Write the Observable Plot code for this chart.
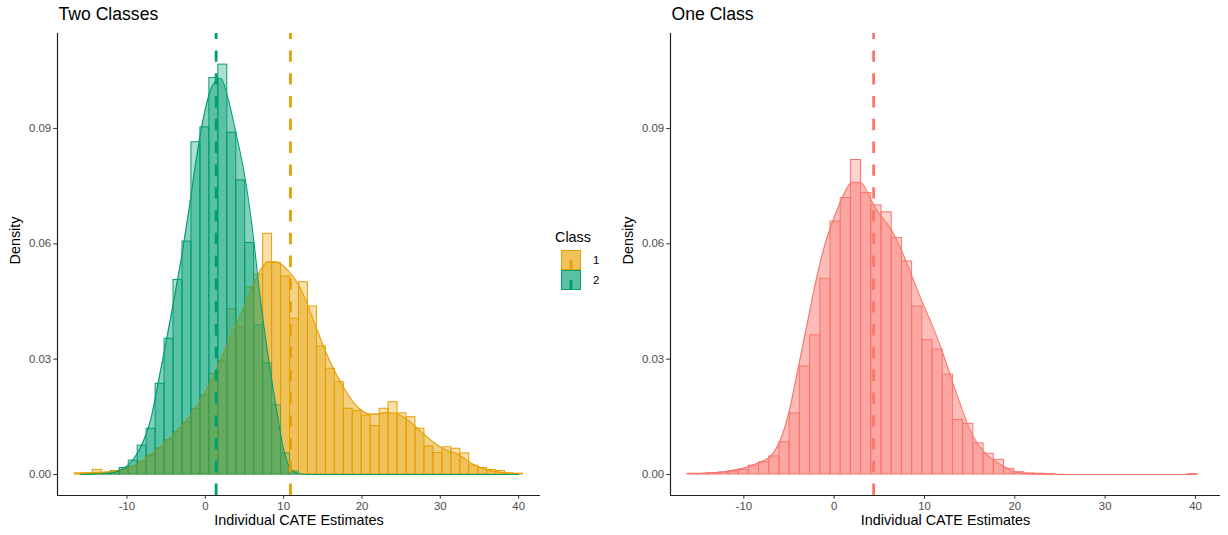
<!DOCTYPE html>
<html>
<head>
<meta charset="utf-8">
<script src="https://cdn.jsdelivr.net/npm/d3@7"></script>
<script src="https://cdn.jsdelivr.net/npm/@observablehq/plot@0.6"></script>
<style>
  html, body { margin: 0; padding: 0; background: #fff; }
  #chart { position: relative; width: 1228px; height: 535px; font-family: "Liberation Sans", Arial, sans-serif; }
  #chart > svg { position: absolute; top: 0; overflow: visible; }
</style>
</head>
<body>
<div id="chart"></div>
<script>
// ---- shared axis settings ----
const xTicks = [-10, 0, 10, 20, 30, 40];
const yTicks = [0, 0.03, 0.06, 0.09];
const yDomain = [-0.00546, 0.1147];

// ---- Two Classes panel ----
const classLabels = ["1", "2"];
const classColors = ["#E69F00", "#009E73"];
const classMeans = [10.87, 1.38];

// histogram grid (50 bins)
const twoBinStart = -16.642;
const twoBinWidth = 1.144;

const class1Hist = [
  0.0003, 0.0003, 0.0012, 0.0004, 0.0008, 0.0012, 0.0020, 0.0033, 0.0050, 0.0068,
  0.0090, 0.0110, 0.0135, 0.0170, 0.0205, 0.0262, 0.0295, 0.0430, 0.0383, 0.0487,
  0.0520, 0.0626, 0.0550, 0.0515, 0.0405, 0.0500, 0.0437, 0.0333, 0.0275, 0.0240,
  0.0171, 0.0165, 0.0153, 0.0126, 0.0171, 0.0188, 0.0159, 0.0149, 0.0119, 0.0073,
  0.0056, 0.0071, 0.0067, 0.0055, 0.0023, 0.0017, 0.0012, 0.0009, 0.0003, 0.0002
];
const class2Hist = [
  0, 0, 0, 0.0003, 0.0008, 0.0017, 0.0036, 0.0075, 0.0119, 0.0236,
  0.0353, 0.0506, 0.0606, 0.0864, 0.0903, 0.1031, 0.1066, 0.0889, 0.0765, 0.0602,
  0.0388, 0.0289, 0.0180, 0.0055, 0.0008, 0, 0, 0, 0, 0,
  0, 0, 0, 0, 0, 0, 0, 0, 0, 0,
  0, 0, 0, 0, 0, 0, 0, 0, 0, 0
];

// kernel density estimates
const twoCurveX = [
  -16, -14, -12, -11, -10, -9, -8, -7, -6, -5, -4, -3, -2, -1, 0, 1, 2, 3, 4, 5,
  6, 7, 8, 9, 10, 11, 12, 13, 14, 15, 16, 17, 18, 19, 20, 21, 22, 23, 24, 25,
  26, 27, 28, 29, 30, 31, 32, 33, 34, 35, 36, 37, 38, 39, 40
];
const class1Curve = [
  0.0003, 0.0005, 0.0008, 0.0011, 0.0015, 0.0024, 0.0035, 0.0050, 0.0067, 0.0086,
  0.0105, 0.0127, 0.0150, 0.0180, 0.0215, 0.0255, 0.0300, 0.0345, 0.0390, 0.0438,
  0.0485, 0.0530, 0.0553, 0.0553, 0.0542, 0.0520, 0.0490, 0.0445, 0.0390, 0.0338,
  0.0290, 0.0250, 0.0215, 0.0185, 0.0166, 0.0157, 0.0157, 0.0161, 0.0160, 0.0153,
  0.0140, 0.0122, 0.0103, 0.0086, 0.0071, 0.0062, 0.0055, 0.0043, 0.0029, 0.0019,
  0.0012, 0.0008, 0.0005, 0.0003, 0.0002
];
const class2Curve = [
  0, 0.0001, 0.0004, 0.0010, 0.0022, 0.0045, 0.0082, 0.0140, 0.0240, 0.0345,
  0.0455, 0.0570, 0.0700, 0.0840, 0.0950, 0.1015, 0.1030, 0.0970, 0.0880, 0.0780,
  0.0640, 0.0460, 0.0310, 0.0180, 0.0065, 0.0012, 0.0002, 0, 0, 0,
  0, 0, 0, 0, 0, 0, 0, 0, 0, 0,
  0, 0, 0, 0, 0, 0, 0, 0, 0, 0,
  0, 0, 0, 0, 0
];

// ---- One Class panel ----
const oneColor = "#F8766D";
const oneMean = 4.37;
const oneBinStart = -16.23;
const oneBinWidth = 1.13;
const oneHist = [
  0.0002, 0.0002, 0.0003, 0.0005, 0.0008, 0.0012, 0.0023, 0.0032, 0.0047, 0.0084,
  0.0159, 0.0281, 0.0362, 0.0509, 0.0658, 0.0719, 0.0818, 0.0732, 0.0700, 0.0682,
  0.0615, 0.0554, 0.0437, 0.0350, 0.0325, 0.0260, 0.0142, 0.0132, 0.0081, 0.0054,
  0.0038, 0.0015, 0.0006, 0.0003, 0.0002, 0.0001, 0, 0, 0, 0,
  0, 0, 0, 0, 0, 0, 0, 0, 0, 0.0001
];
const oneCurveX = [
  -15.5, -14, -12, -11, -10, -9, -8, -7, -6, -5, -4, -3, -2, -1, 0, 1, 2, 3, 4, 5,
  6, 7, 8, 9, 10, 11, 12, 13, 14, 15, 16, 17, 18, 19, 20, 21, 22, 24, 26, 30, 35, 40
];
const oneCurve = [
  0.0002, 0.0004, 0.0008, 0.0012, 0.0017, 0.0025, 0.0034, 0.0048, 0.0087, 0.0162,
  0.0275, 0.0390, 0.0505, 0.0600, 0.0668, 0.0725, 0.0760, 0.0758, 0.0718, 0.0678,
  0.0648, 0.0607, 0.0552, 0.0492, 0.0435, 0.0380, 0.0318, 0.0248, 0.0180, 0.0118,
  0.0076, 0.0050, 0.0032, 0.0018, 0.0007, 0.0003, 0.0001, 0.00005, 0, 0, 0, 0
];

// ---- helpers ----
const toBars = (start, width, values) =>
  values.map((v, i) => ({x1: start + i * width, x2: start + (i + 1) * width, y: v}));
const toCurve = (xs, ys) => xs.map((x, i) => ({x, y: ys[i]}));

const fontStack = "'Liberation Sans', Arial, sans-serif";
const tickFont = 11.4, axisTitleFont = 14.4, titleFont = 17.6;

function panel({xDomain, width, marginLeft, marginRight, title, layers}) {
  return Plot.plot({
    width, height: 535,
    marginLeft, marginRight, marginTop: 33, marginBottom: 40,
    style: {fontFamily: fontStack, background: "transparent", overflow: "visible"},
    x: {domain: xDomain},
    y: {domain: yDomain},
    marks: [
      ...layers,
      // axis lines (classic theme: left and bottom only)
      Plot.ruleX([xDomain[0]], {stroke: "#222", strokeWidth: 1.2}),
      Plot.ruleY([yDomain[0]], {stroke: "#222", strokeWidth: 1.2}),
      Plot.axisX({ticks: xTicks, tickFormat: d => String(d), tickSize: 3.7, tickPadding: 2.2,
        fontSize: tickFont, fill: "#4d4d4d", stroke: "#333", label: null}),
      Plot.axisY({ticks: yTicks, tickFormat: d => d.toFixed(2), tickSize: 3.7, tickPadding: 2.6,
        fontSize: tickFont, fill: "#4d4d4d", stroke: "#333", label: null}),
      Plot.text(["Individual CATE Estimates"], {text: d => d, frameAnchor: "bottom", dy: 29.5,
        fontSize: axisTitleFont, fill: "#000"}),
      Plot.text(["Density"], {text: d => d, frameAnchor: "left", dx: -42, rotate: -90,
        fontSize: axisTitleFont, fill: "#000"}),
      Plot.text([title], {text: d => d, frameAnchor: "top-left", textAnchor: "start",
        lineAnchor: "top", dy: -26, dx: 1, fontSize: titleFont, fill: "#000"})
    ]
  });
}

function histLayers(bars, color) {
  return Plot.rect(bars, {x1: "x1", x2: "x2", y1: 0, y2: "y",
    fill: color, fillOpacity: 0.32, stroke: color, strokeWidth: 1});
}
function densityLayers(curve, color) {
  return [
    Plot.areaY(curve, {x: "x", y1: 0, y2: "y", fill: color, fillOpacity: 0.48, curve: "monotone-x"}),
    Plot.lineY(curve, {x: "x", y: "y", stroke: color, strokeWidth: 1.1, curve: "monotone-x"})
  ];
}
function meanRule(value, color) {
  // drawn from the bottom of the panel upward
  return Plot.ruleX([value], {y1: yDomain[0], y2: yDomain[1], stroke: color,
    strokeWidth: 2.8, strokeDasharray: "11.4,11.4"});
}

const class1Bars = toBars(twoBinStart, twoBinWidth, class1Hist);
const class2Bars = toBars(twoBinStart, twoBinWidth, class2Hist);
const class1Kde = toCurve(twoCurveX, class1Curve);
const class2Kde = toCurve(twoCurveX, class2Curve);

const leftPlot = panel({
  xDomain: [-18.87, 42.79], width: 600, marginLeft: 57, marginRight: 60,
  title: "Two Classes",
  layers: [
    histLayers(class1Bars, classColors[0]),
    histLayers(class2Bars, classColors[1]),
    ...densityLayers(class1Kde, classColors[0]),
    ...densityLayers(class2Kde, classColors[1]),
    meanRule(classMeans[0], classColors[0]),
    meanRule(classMeans[1], classColors[1])
  ]
});
leftPlot.style.left = "0px";

const rightPlot = panel({
  xDomain: [-18.12, 42.77], width: 628, marginLeft: 70, marginRight: 8,
  title: "One Class",
  layers: [
    histLayers(toBars(oneBinStart, oneBinWidth, oneHist), oneColor),
    ...densityLayers(toCurve(oneCurveX, oneCurve), oneColor),
    meanRule(oneMean, oneColor)
  ]
});
rightPlot.style.left = "600px";

const chart = document.getElementById("chart");
chart.appendChild(leftPlot);
chart.appendChild(rightPlot);

// ---- legend for the class colours ----
const key = 20;
const legend = d3.create("svg")
  .attr("width", 70).attr("height", 90)
  .style("left", "553px").style("top", "222px")
  .style("font-family", fontStack);
legend.append("text").attr("x", 2).attr("y", 20)
  .attr("font-size", axisTitleFont).attr("fill", "#000").text("Class");
classLabels.forEach((label, i) => {
  const g = legend.append("g").attr("transform", `translate(8,${28 + i * key})`);
  g.append("rect").attr("x", 0.5).attr("y", 0.5).attr("width", key - 1).attr("height", key - 1)
    .attr("fill", classColors[i]).attr("fill-opacity", 0.32)
    .attr("stroke", classColors[i]).attr("stroke-width", 1);
  g.append("rect").attr("x", 0.5).attr("y", 0.5).attr("width", key - 1).attr("height", key - 1)
    .attr("fill", classColors[i]).attr("fill-opacity", 0.48)
    .attr("stroke", classColors[i]).attr("stroke-width", 1);
  g.append("line").attr("x1", key / 2).attr("x2", key / 2).attr("y1", key).attr("y2", key / 2)
    .attr("stroke", classColors[i]).attr("stroke-width", 2.8);
  g.append("text").attr("x", key + 12).attr("y", key / 2).attr("dy", "0.35em")
    .attr("font-size", tickFont).attr("fill", "#000").text(label);
});
chart.appendChild(legend.node());
</script>
</body>
</html>
